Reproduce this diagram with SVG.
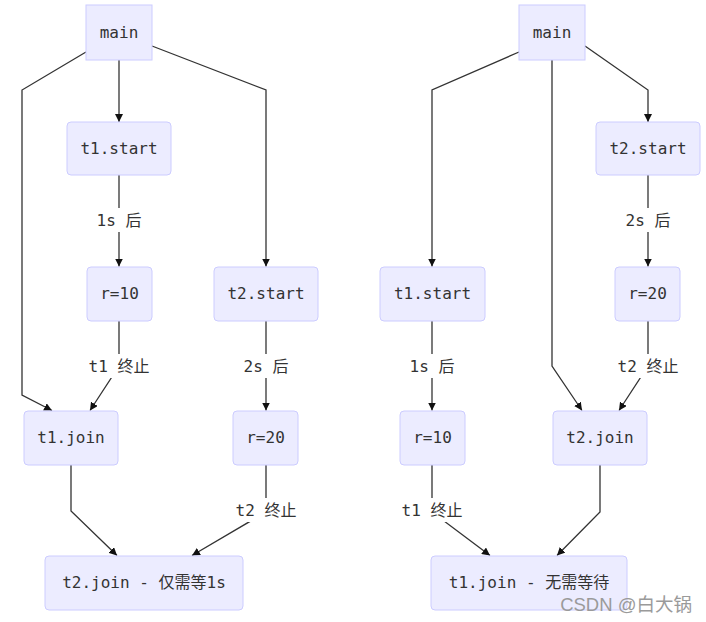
<svg xmlns="http://www.w3.org/2000/svg" width="706" height="622" viewBox="0 0 706 622">
<style>
.n rect{fill:#ECECFF;stroke:#CCCCFF;stroke-width:1}
.t{font-family:"DejaVu Sans Mono","Noto Sans CJK SC",monospace;font-size:16px;fill:#333;text-anchor:middle}
.e path{fill:none;stroke:#333;stroke-width:1.3;marker-end:url(#arr)}
.lb{fill:#fff}
</style>
<defs>
<marker id="arr" viewBox="0 0 10 10" refX="10" refY="5" markerWidth="8" markerHeight="8" markerUnits="userSpaceOnUse" orient="auto">
<path d="M0,0 L10,5 L0,10 z" fill="#111"/>
</marker>
</defs>
<rect width="706" height="622" fill="#fff"/>
<g id="connectors" class="e">
<path d="M119,60 L119,122"/>
<path d="M86,52 L22,90 L22,395 L52,410.5"/>
<path d="M152,46 L266,90 L266,266.5"/>
<path d="M119,175 L119,266.5"/>
<path d="M119,321 L119,366 L90,410.5"/>
<path d="M266,321 L266,410.5"/>
<path d="M71,465 L71,511 L117,555.5"/>
<path d="M266,465 L266,512 L192,555.5"/>
<path d="M519,52 L432,90 L432,266.5"/>
<path d="M552,60 L552,366 L582,410.5"/>
<path d="M585,46 L648,90 L648,122"/>
<path d="M648,175 L648,266.5"/>
<path d="M432,321 L432,410.5"/>
<path d="M648,321 L648,366 L619,410.5"/>
<path d="M432,465 L432,512 L490,555.5"/>
<path d="M600,465 L600,512 L557,555.5"/>
</g>
<g id="edge-labels">
<rect class="lb" x="92" y="208" width="54" height="24"/><text class="t" x="119" y="226">1s 后</text>
<rect class="lb" x="84" y="354" width="70" height="24"/><text class="t" x="119" y="372">t1 终止</text>
<rect class="lb" x="239" y="354" width="54" height="24"/><text class="t" x="266" y="372">2s 后</text>
<rect class="lb" x="231" y="498" width="70" height="24"/><text class="t" x="266" y="516">t2 终止</text>
<rect class="lb" x="621" y="208" width="54" height="24"/><text class="t" x="648" y="226">2s 后</text>
<rect class="lb" x="405" y="354" width="54" height="24"/><text class="t" x="432" y="372">1s 后</text>
<rect class="lb" x="613" y="354" width="70" height="24"/><text class="t" x="648" y="372">t2 终止</text>
<rect class="lb" x="397" y="498" width="70" height="24"/><text class="t" x="432" y="516">t1 终止</text>
</g>
<g id="L-main" class="n"><rect x="86" y="5" width="66" height="55"/><text class="t" x="119" y="38">main</text></g>
<g id="L-t1start" class="n"><rect x="67" y="122" width="104" height="53" rx="4"/><text class="t" x="119" y="154">t1.start</text></g>
<g id="L-r10" class="n"><rect x="87" y="267" width="65" height="54" rx="4"/><text class="t" x="119.5" y="299">r=10</text></g>
<g id="L-t2start" class="n"><rect x="214" y="267" width="104" height="54" rx="4"/><text class="t" x="266" y="299">t2.start</text></g>
<g id="L-t1join" class="n"><rect x="24" y="411" width="94" height="54" rx="4"/><text class="t" x="71" y="443">t1.join</text></g>
<g id="L-r20" class="n"><rect x="233" y="411" width="65" height="54" rx="4"/><text class="t" x="265.5" y="443">r=20</text></g>
<g id="L-t2join" class="n"><rect x="45" y="556" width="198" height="54" rx="4"/><text class="t" x="144" y="588">t2.join - 仅需等1s</text></g>
<g id="R-main" class="n"><rect x="519" y="5" width="66" height="55"/><text class="t" x="552" y="38">main</text></g>
<g id="R-t2start" class="n"><rect x="596" y="122" width="104" height="53" rx="4"/><text class="t" x="648" y="154">t2.start</text></g>
<g id="R-t1start" class="n"><rect x="380" y="267" width="105" height="54" rx="4"/><text class="t" x="432.5" y="299">t1.start</text></g>
<g id="R-r20" class="n"><rect x="615" y="267" width="65" height="54" rx="4"/><text class="t" x="647.5" y="299">r=20</text></g>
<g id="R-r10" class="n"><rect x="400" y="411" width="65" height="54" rx="4"/><text class="t" x="432.5" y="443">r=10</text></g>
<g id="R-t2join" class="n"><rect x="553" y="411" width="94" height="54" rx="4"/><text class="t" x="600" y="443">t2.join</text></g>
<g id="R-t1join" class="n"><rect x="431" y="556" width="196" height="54" rx="4"/><text class="t" x="529" y="588">t1.join - 无需等待</text></g>
<text x="692" y="611" text-anchor="end" font-family="Liberation Sans,Noto Sans CJK SC,sans-serif" font-size="18.5" fill="#9a9a9a">CSDN @白大锅</text>
</svg>
